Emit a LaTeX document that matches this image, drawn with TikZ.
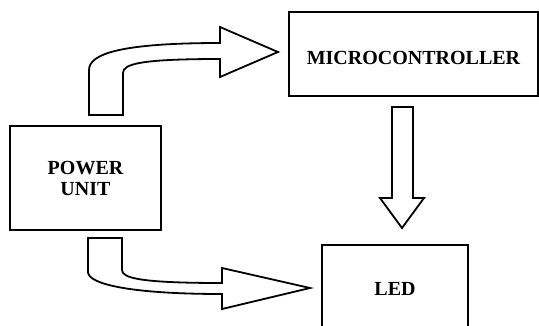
\documentclass[tikz,border=0pt]{standalone}
\usepackage{fontspec}
\setmainfont{Liberation Serif}
\begin{document}
\begin{tikzpicture}[x=1pt,y=-1pt,
  block/.style={draw=black,line width=2.6pt,fill=white,inner sep=0pt,
    font=\fontsize{20}{21}\selectfont\bfseries,align=center},
  fatarrow/.style={draw=black,line width=1.8pt,fill=white,line join=miter}]
\useasboundingbox (0,0) rectangle (539,325);
% boxes
\node[block,minimum width=151pt,minimum height=104pt] (pu) at (85.5,178) {POWER\\UNIT};
\node[block,minimum width=249pt,minimum height=84pt,text height=22pt] (mc) at (413.5,54) {MICROCONTROLLER};
\node[block,minimum width=146pt,minimum height=88pt] (led) at (395,289) {LED};
% power unit -> microcontroller (bent block arrow)
\draw[fatarrow] (89,115) -- (89,70) .. controls (89,54) and (120,43) .. (220,43)
  -- (220,27) -- (278,52) -- (220,77) -- (220,59)
  .. controls (140,59) and (123,64) .. (123,73) -- (123,115) -- cycle;
% microcontroller -> LED (straight block arrow)
\draw[fatarrow] (392,107) -- (392,198) -- (380,198) -- (402,228) -- (424,198)
  -- (413,198) -- (413,107) -- cycle;
% power unit -> LED (bent block arrow)
\draw[fatarrow] (88,238) -- (88,272) .. controls (88,284) and (130,294) .. (222,294)
  -- (222,309) -- (310,288) -- (222,268) -- (222,283)
  .. controls (140,283) and (122,278) .. (122,270) -- (122,238) -- cycle;
\end{tikzpicture}
\end{document}
